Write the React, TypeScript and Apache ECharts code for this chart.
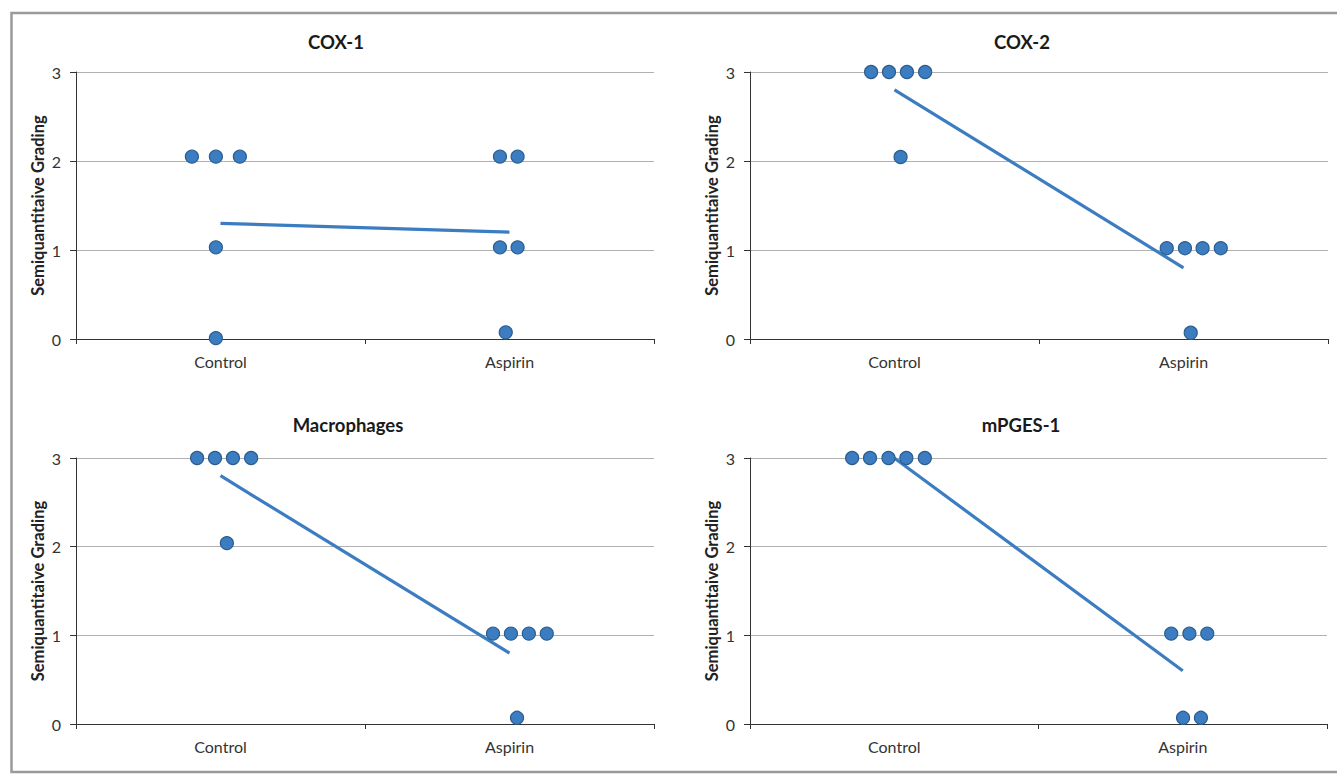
import React, { useEffect, useRef } from "react";
import * as echarts from "echarts";

const categories = ["Control", "Aspirin"];
const panelTitles = ["COX-1", "COX-2", "Macrophages", "mPGES-1"];
const yAxisTitle = "Semiquantitaive Grading";
const yMin = 0;
const yMax = 3;

// COX-1
const cox1ControlX = [0.901, 0.984, 1.067, 0.984, 0.984];
const cox1ControlY = [2.05, 2.05, 2.05, 1.03, 0.01];
const cox1AspirinX = [1.967, 2.028, 1.967, 2.028, 1.987];
const cox1AspirinY = [2.05, 2.05, 1.03, 1.03, 0.075];
const cox1Means = [1.3, 1.2];

// COX-2
const cox2ControlX = [0.919, 0.981, 1.043, 1.106, 1.021];
const cox2ControlY = [3, 3, 3, 3, 2.045];
const cox2AspirinX = [1.942, 2.005, 2.066, 2.129, 2.025];
const cox2AspirinY = [1.02, 1.02, 1.02, 1.02, 0.07];
const cox2Means = [2.8, 0.8];

// Macrophages
const macControlX = [0.919, 0.981, 1.043, 1.106, 1.022];
const macControlY = [3, 3, 3, 3, 2.04];
const macAspirinX = [1.943, 2.005, 2.067, 2.129, 2.026];
const macAspirinY = [1.02, 1.02, 1.02, 1.02, 0.07];
const macMeans = [2.8, 0.8];

// mPGES-1
const mpgesControlX = [0.854, 0.916, 0.98, 1.042, 1.106];
const mpgesControlY = [3, 3, 3, 3, 3];
const mpgesAspirinX = [1.96, 2.023, 2.085, 2.001, 2.063];
const mpgesAspirinY = [1.02, 1.02, 1.02, 0.07, 0.07];
const mpgesMeans = [3.0, 0.6];

const groupPositions = [1, 2];

const panels = [
  { cx: cox1ControlX, cy: cox1ControlY, ax: cox1AspirinX, ay: cox1AspirinY, means: cox1Means },
  { cx: cox2ControlX, cy: cox2ControlY, ax: cox2AspirinX, ay: cox2AspirinY, means: cox2Means },
  { cx: macControlX, cy: macControlY, ax: macAspirinX, ay: macAspirinY, means: macMeans },
  { cx: mpgesControlX, cy: mpgesControlY, ax: mpgesAspirinX, ay: mpgesAspirinY, means: mpgesMeans },
];

const FONT = "Lato, 'Noto Sans', sans-serif";
const DOT = "#3b7dc0";
const DOT_BORDER = "#2a5d8e";
const LINE = "#3b7dc0";

const gridBoxes = [
  { left: 76, top: 72, width: 578, height: 267, titleX: 336, titleY: 42 },
  { left: 750, top: 72, width: 578, height: 267, titleX: 1022, titleY: 42 },
  { left: 76, top: 458, width: 578, height: 266, titleX: 348, titleY: 425 },
  { left: 750, top: 458, width: 577, height: 266, titleX: 1021, titleY: 425 },
];

export default function App() {
  const ref = useRef<HTMLDivElement>(null);

  useEffect(() => {
    if (!ref.current) return;
    const chart = echarts.init(ref.current, null, { renderer: "svg" });

    const grids: any[] = [];
    const xAxes: any[] = [];
    const yAxes: any[] = [];
    const series: any[] = [];
    const graphics: any[] = [
      {
        type: "rect",
        shape: { x: 11.5, y: 13, width: 1340, height: 759 },
        style: { fill: "none", stroke: "#9a9a9a", lineWidth: 2.5 },
        silent: true,
        z: 100,
      },
    ];

    panels.forEach((p, i) => {
      const g = gridBoxes[i];
      grids.push({ left: g.left, top: g.top, width: g.width, height: g.height, containLabel: false });
      xAxes.push({
        type: "category",
        gridIndex: i,
        data: categories,
        boundaryGap: true,
        axisLine: { show: true, lineStyle: { color: "#333", width: 1 } },
        axisTick: { show: true, interval: 0, length: 5, lineStyle: { color: "#333" } },
        axisLabel: { show: true, interval: 0, margin: 14, fontSize: 16, color: "#333", fontFamily: FONT },
        splitLine: { show: false },
      });
      xAxes.push({
        type: "value",
        gridIndex: i,
        min: 0.5,
        max: 2.5,
        show: false,
        splitLine: { show: false },
      });
      yAxes.push({
        type: "value",
        gridIndex: i,
        min: yMin,
        max: yMax,
        interval: 1,
        name: yAxisTitle,
        nameLocation: "middle",
        nameGap: 30,
        nameRotate: 90,
        nameTextStyle: { fontSize: 16.5, fontWeight: "bold", color: "#222", fontFamily: FONT },
        axisLine: { show: true, lineStyle: { color: "#333", width: 1 } },
        axisTick: { show: true, length: 6, lineStyle: { color: "#333" } },
        axisLabel: { margin: 15, fontSize: 16, color: "#333", fontFamily: FONT },
        splitLine: { show: true, lineStyle: { color: "#b0b0b0", width: 1 } },
      });
      const valIdx = i * 2 + 1;
      series.push({
        type: "line",
        xAxisIndex: valIdx,
        yAxisIndex: i,
        data: groupPositions.map((x, k) => [x, p.means[k]]),
        symbol: "none",
        lineStyle: { color: LINE, width: 3.2 },
        z: 2,
        silent: true,
      });
      series.push({
        type: "scatter",
        xAxisIndex: valIdx,
        yAxisIndex: i,
        data: p.cx.map((x, k) => [x, p.cy[k]]).concat(p.ax.map((x, k) => [x, p.ay[k]])),
        symbol: "circle",
        symbolSize: 13,
        clip: false,
        itemStyle: { color: DOT, borderColor: DOT_BORDER, borderWidth: 1.2, opacity: 1 },
        z: 3,
        silent: true,
      });
      graphics.push({
        type: "text",
        x: g.titleX,
        y: g.titleY,
        style: {
          text: panelTitles[i],
          fontSize: 18.5,
          fontWeight: "bold",
          fill: "#1a1a1a",
          fontFamily: FONT,
          textAlign: "center",
          textVerticalAlign: "middle",
        },
      });
    });

    chart.setOption({
      animation: false,
      backgroundColor: "#ffffff",
      grid: grids,
      xAxis: xAxes,
      yAxis: yAxes,
      series,
      graphic: graphics,
    });

    return () => chart.dispose();
  }, []);

  return (
    <div
      ref={ref}
      style={{ position: "absolute", left: 0, top: 0, width: 1337, height: 774, background: "#fff" }}
    />
  );
}
